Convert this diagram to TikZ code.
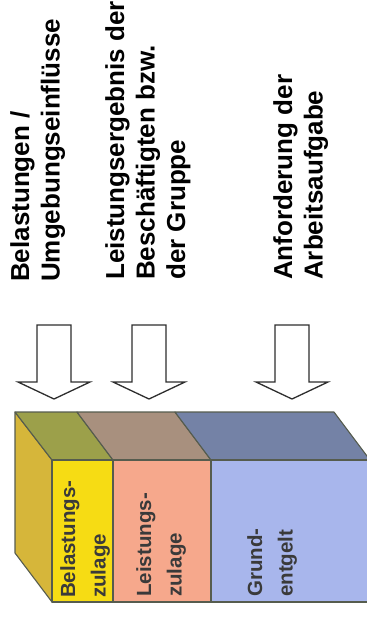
\documentclass[tikz,border=0pt]{standalone}
\usepackage{fontspec}
\setmainfont{Liberation Sans}
\begin{document}
\begin{tikzpicture}[x=1pt,y=-1pt,
  headline/.style={rotate=90,anchor=north west,inner sep=0pt,align=left,
    font=\fontsize{26}{30.5}\selectfont\bfseries,text=black},
  boxlabel/.style={rotate=90,anchor=north west,inner sep=0pt,align=left,
    font=\fontsize{20.5}{30.5}\selectfont\bfseries,text=labelgray},
  face/.style={draw=edgegray,line width=1.1pt,line join=round},
  blockarrow/.style={draw=arrowgray,fill=white,line width=1.3pt,line join=miter}]
\definecolor{edgegray}{HTML}{565C4E}
\definecolor{arrowgray}{HTML}{2E2E2E}
\definecolor{labelgray}{HTML}{3A3A3A}
\definecolor{sideyellow}{HTML}{D6B63A}
\definecolor{topolive}{HTML}{9CA04A}
\definecolor{topbrown}{HTML}{A8907E}
\definecolor{topslate}{HTML}{7482A6}
\definecolor{frontyellow}{HTML}{F6DC14}
\definecolor{frontsalmon}{HTML}{F6A88C}
\definecolor{frontblue}{HTML}{A8B6EC}

\useasboundingbox (0,0) rectangle (367,619);
\clip (0,0) rectangle (367,619);

% headings above the block
\node[headline] (hBel) at (10,282) {Belastungen /\\Umgebungseinflüsse};
\node[headline] (hLei) at (105,280) {Leistungsergebnis der\\Beschäftigten bzw.\\der Gruppe};
\node[headline] (hAnf) at (273,280) {Anforderung der\\Arbeitsaufgabe};

% hollow block arrows pointing down onto the block
\foreach \cx/\nm in {54/aBel,149/aLei,292/aAnf}{
  \coordinate (\nm) at (\cx,399);
  \draw[blockarrow] (\cx-17,325) -- (\cx+17,325) -- (\cx+17,382) -- (\cx+36,382)
    -- (\nm) -- (\cx-36,382) -- (\cx-17,382) -- cycle;
}

% block corners: back edge at y=412, front edge at y=460
\coordinate (bTL) at (15,412);
\coordinate (bBL) at (15,553);
\coordinate (fTL) at (52,460);
\coordinate (fBL) at (52,602);
\coordinate (b1) at (77,412);
\coordinate (f1) at (113,460);
\coordinate (b2) at (175,412);
\coordinate (f2) at (211,460);
\coordinate (bTR) at (334,412);
\coordinate (fTR) at (370,460);

% left side face
\draw[face,fill=sideyellow] (bTL) -- (fTL) -- (fBL) -- (bBL) -- cycle;
% top face, three parts
\draw[face,fill=topolive] (bTL) -- (b1) -- (f1) -- (fTL) -- cycle;
\draw[face,fill=topbrown] (b1) -- (b2) -- (f2) -- (f1) -- cycle;
\draw[face,fill=topslate] (b2) -- (bTR) -- (fTR) -- (f2) -- cycle;
% front face, three parts
\draw[face,fill=frontyellow] (fTL) rectangle (113,602);
\draw[face,fill=frontsalmon] (f1) rectangle (211,602);
\draw[face,fill=frontblue] (f2) rectangle (370,602);

% labels on the front face
\node[boxlabel] (lBel) at (60,598) {Belastungs-\\zulage};
\node[boxlabel] (lLei) at (136,597) {Leistungs-\\zulage};
\node[boxlabel] (lGru) at (247,597) {Grund-\\entgelt};
\end{tikzpicture}
\end{document}
